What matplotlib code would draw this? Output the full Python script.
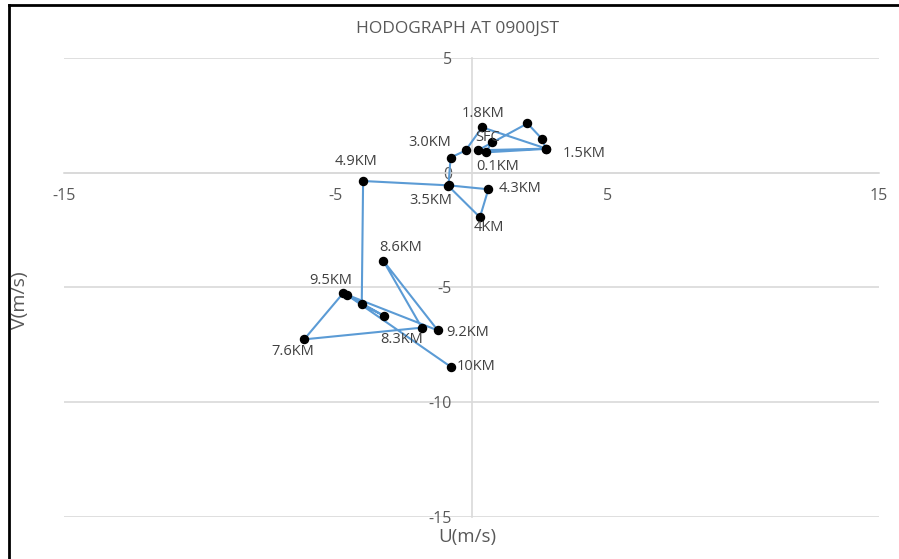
import matplotlib
matplotlib.use("Agg")
import matplotlib.pyplot as plt
from matplotlib.lines import Line2D

plt.rcParams["axes.unicode_minus"] = False

# Wind components (m/s) from the surface upward, in sounding order
u_wind = [0.74, 0.54, 2.74, 2.59, 2.06, 0.24, 2.76, 0.39, -0.22, -0.77,
          -0.85, 0.31, 0.62, -0.83, -3.99, -4.04, -3.21, -4.72, -6.16,
          -1.83, -3.25, -1.24, -4.60, -0.77]
v_wind = [1.33, 0.89, 1.04, 1.48, 2.15, 0.98, 1.05, 1.98, 0.97, 0.66,
          -0.58, -1.94, -0.72, -0.55, -0.36, -5.74, -6.24, -5.24, -7.26,
          -6.75, -3.83, -6.87, -5.31, -8.45]
level_labels = ["SFC", "0.1KM", "", "", "", "", "1.5KM", "1.8KM", "", "3.0KM",
                "3.5KM", "4KM", "4.3KM", "", "4.9KM", "", "", "", "7.6KM",
                "8.3KM", "8.6KM", "9.2KM", "9.5KM", "10KM"]

x_ticks = [-15, -5, 5, 15]
y_ticks = [-15, -10, -5, 0, 5]

# label placement around each marker (offset in pixels, horizontal alignment)
label_offsets = {
    "SFC": (-4, 5, "center"),
    "0.1KM": (11, -14, "center"),
    "1.5KM": (16, -5, "left"),
    "1.8KM": (1, 14, "center"),
    "3.0KM": (-21, 15, "center"),
    "3.5KM": (-18, -14, "center"),
    "4KM": (9, -10, "center"),
    "4.3KM": (10, 1, "left"),
    "4.9KM": (-7, 20, "center"),
    "7.6KM": (-11, -12, "center"),
    "8.3KM": (-20, -12, "center"),
    "8.6KM": (17, 13, "center"),
    "9.2KM": (8, -2, "left"),
    "9.5KM": (-16, 14, "center"),
    "10KM": (6, 0, "left"),
}

FONT = ["Open Sans", "DejaVu Sans"]
GRID = "#D9D9D9"
TEXT = "#595959"

W, H = 899, 559
fig = plt.figure(figsize=(W / 100, H / 100), dpi=100)
fig.patch.set_facecolor("white")

ax = fig.add_axes([64 / W, 42 / H, 815 / W, 459 / H])
ax.set_xlim(-15, 15)
ax.set_ylim(-15, 5)

# axes crossing at the origin
for side in ("top", "right"):
    ax.spines[side].set_visible(False)
ax.spines["left"].set_position(("data", 0))
ax.spines["bottom"].set_position(("data", 0))
for side in ("left", "bottom"):
    ax.spines[side].set_color(GRID)
    ax.spines[side].set_linewidth(1.2)

ax.set_xticks(x_ticks)
ax.set_yticks(y_ticks)
ax.tick_params(axis="x", length=0, pad=11, labelsize=11.5, labelcolor=TEXT)
ax.tick_params(axis="y", length=0, pad=14, labelsize=11.5, labelcolor=TEXT)
for lab in ax.get_xticklabels() + ax.get_yticklabels():
    lab.set_family(FONT)
ax.yaxis.grid(True, color=GRID, linewidth=1.2)
ax.set_axisbelow(True)

ax.plot(u_wind, v_wind, color="#5B9BD5", linewidth=1.5, zorder=3,
        marker="o", markersize=5.8, markerfacecolor="black",
        markeredgecolor="black")

for x, y, text in zip(u_wind, v_wind, level_labels):
    if not text:
        continue
    dx, dy, ha = label_offsets[text]
    ax.annotate(text, (x, y), xytext=(dx, dy), textcoords="offset pixels",
                ha=ha, va="center", fontsize=10.5, color="#404040",
                family=FONT, zorder=4)

fig.text(458 / W, 1 - 29 / H, "HODOGRAPH AT 0900JST", ha="center",
         va="center", fontsize=12.5, color=TEXT, family=FONT)
fig.text(467 / W, 1 - 537 / H, "U(m/s)", ha="center", va="center",
         fontsize=13.5, color=TEXT, family=FONT)
fig.text(20 / W, 1 - 300 / H, "V(m/s)", ha="center", va="center",
         rotation=90, fontsize=14, color=TEXT, family=FONT)

# frame along the top and left edges
fig.add_artist(Line2D([9 / W, 1], [1 - 5 / H, 1 - 5 / H], color="black",
                      linewidth=2, transform=fig.transFigure))
fig.add_artist(Line2D([9 / W, 9 / W], [0, 1 - 5 / H], color="black",
                      linewidth=2, transform=fig.transFigure))

fig.savefig("out.png", dpi=100)
